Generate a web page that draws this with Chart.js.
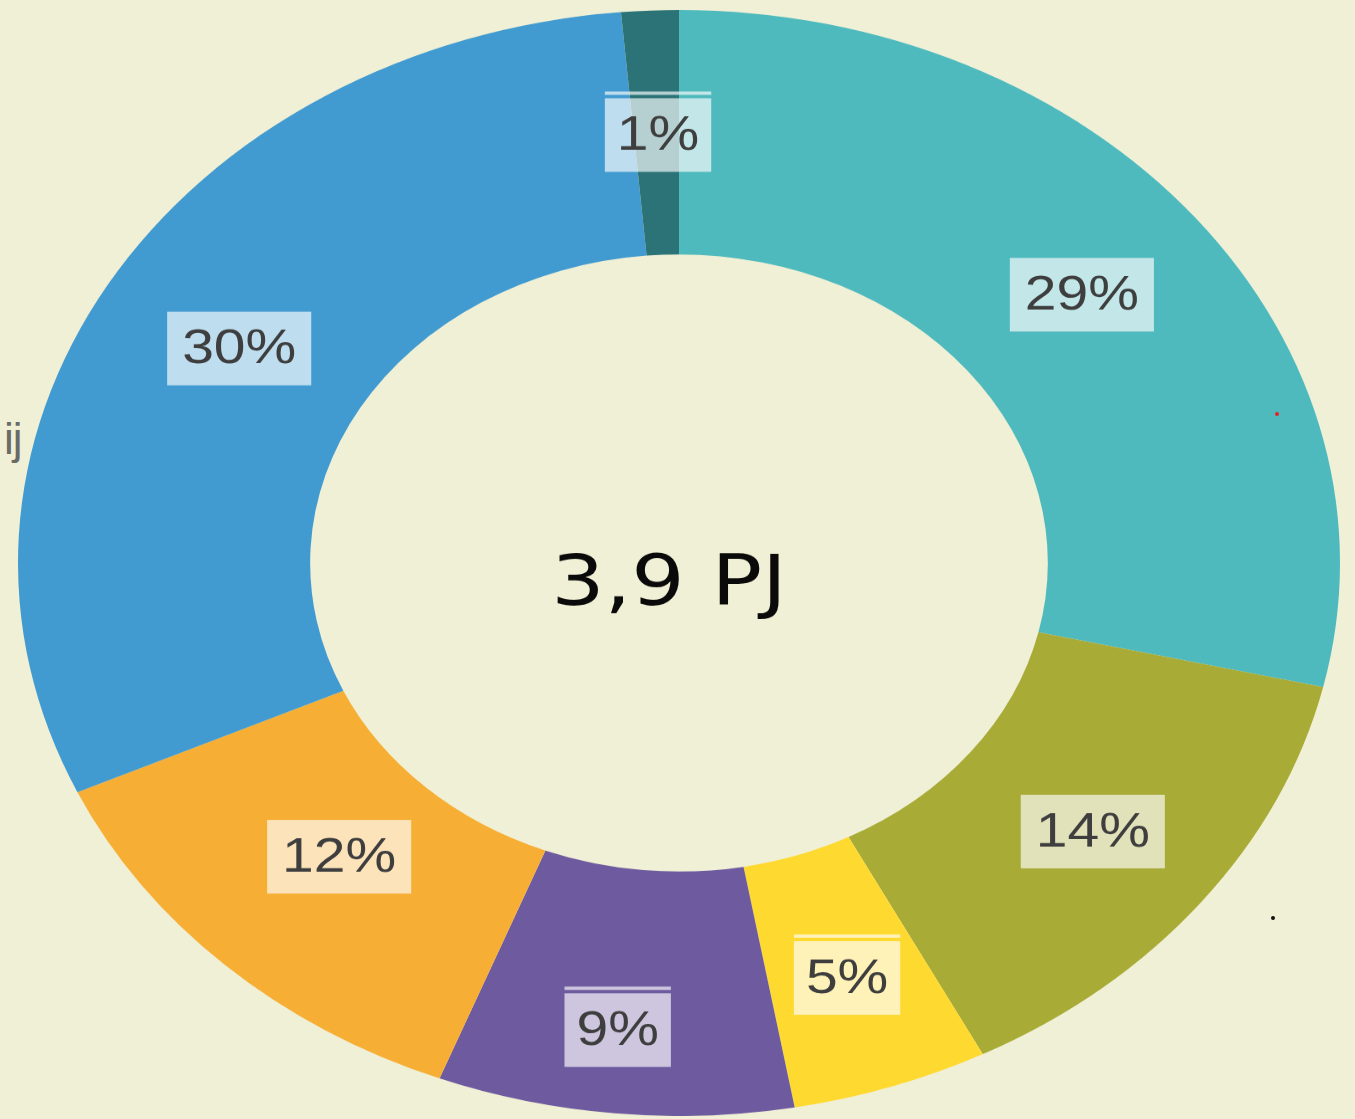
<!DOCTYPE html>
<html lang="nl">
<head>
<meta charset="UTF-8">
<title>3,9 PJ</title>
<script src="https://cdn.jsdelivr.net/npm/chart.js@4.4.1/dist/chart.umd.min.js"></script>
<style>
*{margin:0;padding:0;box-sizing:border-box}
html,body{width:1355px;height:1119px;overflow:hidden;background:#f0f0d6;font-family:"Liberation Sans",Arial,sans-serif}
#wrap{position:absolute;left:18px;top:10px;width:1322px;height:1322px;transform:scaleY(0.8366);transform-origin:0 0}
#cut{position:absolute;left:4px;top:414px;font-size:44px;color:#6a6a66;letter-spacing:-1px}
.dot{position:absolute;width:4px;height:4px;border-radius:50%;z-index:5}
</style>
</head>
<body>
<div id="cut">ij</div>
<div id="wrap"><canvas id="c" width="1322" height="1322"></canvas></div>
<div class="dot" style="left:1275px;top:412px;background:#e8202a"></div>
<div class="dot" style="left:1271px;top:916px;background:#111"></div>
<script>
// ── data ──
const categorieen=['Segment A','Segment B','Segment C','Segment D','Segment E','Segment F','Segment G'];
const aandelen=[28.6,13.8,4.8,8.7,12.3,30.4,1.4];
const kleuren=['#4fbabe','#a9ab37','#fed930','#6d5a9f','#f6ae35','#429bd0','#2b7377'];
const totaal='3,9 PJ';

// labels: halfdoorzichtig wit kader op het midden van elke sector
const labelPlugin={
  id:'pctLabels',
  afterDatasetsDraw(chart,args,opts){
    const ctx=chart.ctx;
    const meta=chart.getDatasetMeta(0);
    ctx.save();
    ctx.font='57px "Liberation Sans", Arial, sans-serif';
    ctx.textAlign='center';
    ctx.textBaseline='middle';
    meta.data.forEach((arc,i)=>{
      const txt=Math.round(aandelen[i])+'%';
      const p=arc.getProps(['x','y','startAngle','endAngle','innerRadius','outerRadius'],true);
      const a=(p.startAngle+p.endAngle)/2+opts.rot[i];
      const r=p.innerRadius+(p.outerRadius-p.innerRadius)*(opts.rad[i]);
      const x=p.x+Math.cos(a)*r, y=p.y+Math.sin(a)*r;
      const w=ctx.measureText(txt).width+(txt.length===2?24:30), h=88;
      ctx.fillStyle='rgba(255,255,255,0.66)';
      ctx.fillRect(x-w/2,y-h/2,w,h);
      if(txt.length===2){ctx.fillRect(x-w/2,y-h/2-8,w,4);}
      ctx.fillStyle='#3e3e3e';
      ctx.fillText(txt,x,y+2);
    });
    // totaal in het midden
    ctx.font='84px "DejaVu Sans", sans-serif';
    ctx.fillStyle='#0a0a0a';
    ctx.textBaseline='alphabetic';
    ctx.fillText(totaal,meta.data[0].x-10,meta.data[0].y+50);
    ctx.restore();
  }
};

new Chart(document.getElementById('c'),{
  type:'doughnut',
  data:{labels:categorieen,datasets:[{data:aandelen,backgroundColor:kleuren,borderWidth:0}]},
  options:{
    responsive:false,
    animation:false,
    cutout:'55.8%',
    layout:{padding:0},
    plugins:{legend:{display:false},tooltip:{enabled:false},
      pctLabels:{rad:[0.5,0.53,0.53,0.66,0.41,0.48,0.49],rot:[0,0,0,0.012,0.012,0,0.003]}}
  },
  plugins:[labelPlugin]
});
</script>
</body>
</html>
